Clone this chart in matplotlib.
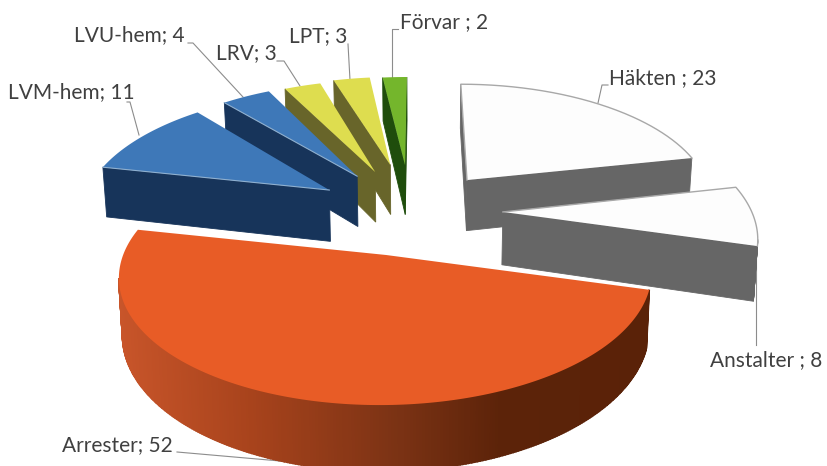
import numpy as np
import matplotlib
matplotlib.use("Agg")
import matplotlib.pyplot as plt
from matplotlib.colors import to_rgb

categories = ["Häkten", "Anstalter", "Arrester", "LVM-hem", "LVU-hem", "LRV", "LPT", "Förvar"]
values = [23, 8, 52, 11, 4, 3, 3, 2]
separators = [" ; ", " ; ", "; ", "; ", "; ", "; ", "; ", " ; "]

# style / layout (separate from data)
top_colors = ["#fdfdfd", "#fdfdfd", "#e85c26", "#3e78b8", "#3e78b8", "#dedd4f", "#dedd4f", "#74b62c"]
side_colors = ["#666666", "#666666", "#7a3214", "#17345a", "#17345a", "#68652a", "#68652a", "#1f4d0c"]
pull_x = [.197, .333, -.129, -.375, -.265, -.19, -.127, -.064]
pull_y = [.171, -.098, -.427, .084, .205, .242, .306, .306]
squash = [.97, 1.0, .915, .98, .96, .95, .92, .92]
draw_order = [7, 6, 5, 4, 3, 0, 1, 2]
label_pos = [(609, 78), (710, 360), (62, 445), (8, 92), (74, 35), (216, 53), (289, 36), (400, 22)]
leaders = [
    [(608, 85), (602, 85), (598, 103)],
    [(756, 243), (756, 345)],
    [(177, 452), (280, 461)],
    [(127, 102), (130, 102), (139, 135)],
    [(188, 43), (193, 43), (243, 97)],
    [(277, 61), (284, 61), (300, 86)],
    [(348, 44), (350, 80)],
    [(398, 29), (392, 29), (392, 77)],
]
CX, CY, A0, B0, K, H, SHRINK = 420, 200, 245, 120, 0.16, 52, 0.988

W, H_PX = 827, 466
fig = plt.figure(figsize=(W / 100, H_PX / 100), dpi=100)
ax = fig.add_axes([0, 0, 1, 1])
ax.set_xlim(0, W)
ax.set_ylim(H_PX, 0)
ax.axis("off")


def project(X, Y):
    p = 1 / (1 + K * Y)
    return CX + A0 * X * p, CY - B0 * Y * p, p


def lower(x, y, p):
    return CX + (x - CX) * SHRINK, y + H * p


GRAD = [(118, "#c8552a"), (250, "#a8431c"), (400, "#7a3214"), (500, "#5c2309"), (660, "#5a2208")]


def rim_color(x):
    xs = [g[0] for g in GRAD]
    rgb = np.array([to_rgb(g[1]) for g in GRAD])
    return tuple(np.interp(x, xs, rgb[:, i]) for i in range(3))


total = sum(values)
starts = np.cumsum([0] + values[:-1]) / total * 2 * np.pi
spans = np.array(values) / total * 2 * np.pi

for i in draw_order:
    z = 2 + draw_order.index(i) * 0.1
    th = np.linspace(starts[i], starts[i] + spans[i], max(8, int(values[i] * 6)))
    RX = pull_x[i] + np.sin(th)
    RY = pull_y[i] + squash[i] * np.cos(th)
    rx, ry, rp = project(RX, RY)
    ax_, ay_, ap_ = project(pull_x[i], pull_y[i])
    # closed outline of the top: apex, rim, apex
    px = np.r_[ax_, rx, ax_]
    py = np.r_[ay_, ry, ay_]
    pp = np.r_[ap_, rp, ap_]
    sx, sy = lower(px, py, pp)
    # side faces: an edge travelling leftwards on screen faces the viewer
    for j in range(len(px) - 1):
        if px[j + 1] < px[j]:
            col = side_colors[i]
            lw = 0.6
            if categories[i] == "Arrester":
                col = rim_color(0.5 * (px[j] + px[j + 1]))
                lw = 1.2
            ax.fill([px[j], px[j + 1], sx[j + 1], sx[j]],
                    [py[j], py[j + 1], sy[j + 1], sy[j]],
                    color=col, lw=lw, zorder=z)
    ax.fill(px, py, color=top_colors[i], lw=0, zorder=z + 0.05)
    if top_colors[i] == "#fdfdfd":
        ax.plot(px[:-1], py[:-1], color="#a8a8a8", lw=1.0, zorder=z + 0.06)
    if top_colors[i] == "#3e78b8":
        ax.plot(px[:2], py[:2], color="#8fb0d0", lw=0.8, zorder=z + 0.06)

for pts in leaders:
    xs, ys = zip(*pts)
    ax.plot(xs, ys, color="#8c8c8c", lw=0.8, zorder=1.5)

for c, v, sep, (x, y) in zip(categories, values, separators, label_pos):
    ax.text(x, y, f"{c}{sep}{v}", family="Lato", fontsize=15, color="#404040",
            ha="left", va="center", zorder=5)

fig.savefig("out.png", dpi=100)
